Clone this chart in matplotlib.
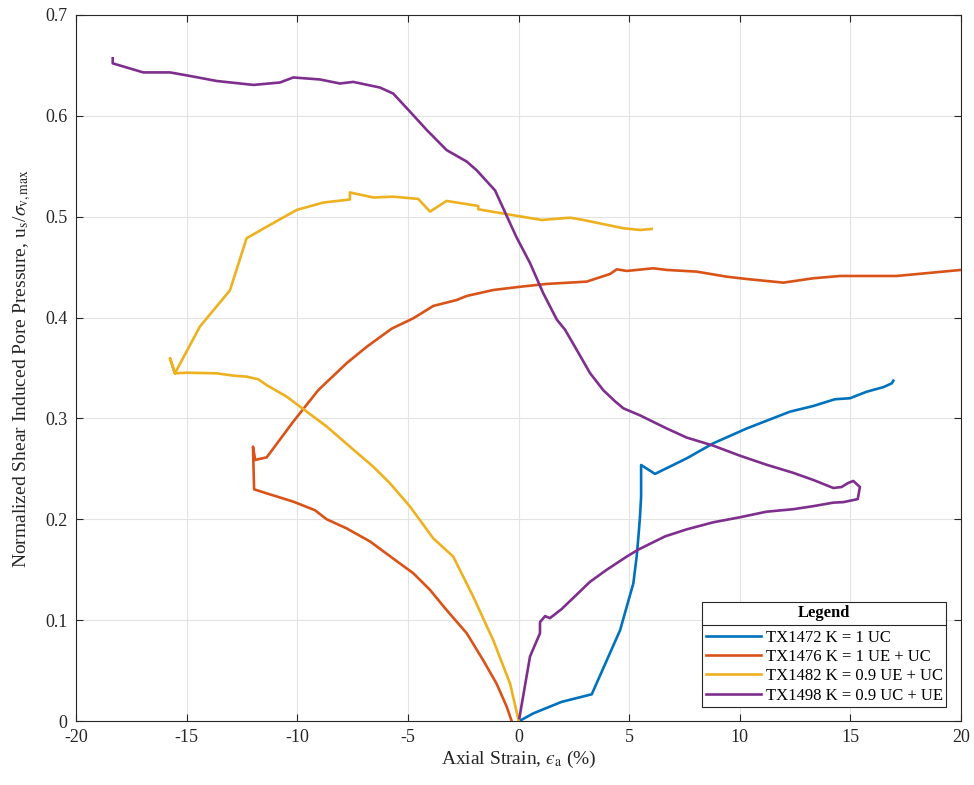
import matplotlib.pyplot as plt
from matplotlib.lines import Line2D

plt.rcParams['font.family'] = ['Liberation Serif', 'DejaVu Serif']
plt.rcParams['mathtext.fontset'] = 'stix'
plt.rcParams['axes.unicode_minus'] = False

# TX1472 K = 1 UC
x1472 = [0.04, 0.67, 1.95, 3.31, 4.59, 4.89, 5.19, 5.34, 5.42, 5.49, 5.54, 5.54, 6.17,
         7.6, 8.8, 10.31, 12.27, 13.32, 14.3, 14.98, 15.74, 16.49, 16.87, 16.94]
y1472 = [0.0, 0.0076, 0.019, 0.0265, 0.090, 0.1133, 0.1365, 0.163, 0.183, 0.2026, 0.222, 0.2538, 0.245,
         0.2604, 0.2753, 0.290, 0.3067, 0.3123, 0.319, 0.320, 0.3265, 0.331, 0.3348, 0.3374]

# TX1476 K = 1 UE + UC
x1476 = [-0.31, -0.53, -0.99, -1.59, -2.34, -3.25, -4.0, -4.75, -5.66, -6.71, -7.77, -8.67,
         -9.2, -10.18, -11.38, -11.95, -12.0, -11.9, -11.38, -10.18, -9.05, -7.77, -6.86, -5.73,
         -4.75, -3.85, -2.79, -2.34, -1.14, 0.07, 1.27, 3.08, 4.14, 4.44, 4.89, 6.09, 6.7,
         8.05, 9.41, 10.31, 11.97, 13.32, 14.53, 17.09, 20.0]
y1476 = [0.0, 0.014, 0.037, 0.060, 0.087, 0.110, 0.130, 0.1464, 0.161, 0.178, 0.191, 0.200,
         0.209, 0.2175, 0.2257, 0.2297, 0.272, 0.2588, 0.2614, 0.2968, 0.328, 0.3547, 0.371, 0.389,
         0.3993, 0.4115, 0.4174, 0.4214, 0.4273, 0.4305, 0.4333, 0.4356, 0.4432, 0.4478, 0.4462, 0.4488, 0.4472,
         0.4455, 0.4405, 0.4382, 0.4346, 0.4389, 0.4412, 0.4412, 0.4472]

# TX1482 K = 0.9 UE + UC
x1482 = [0.0, -0.38, -1.14, -2.04, -2.95, -3.85, -4.9, -5.81, -6.56, -7.62, -8.67, -9.57,
         -10.48, -11.38, -11.76, -12.29, -12.89, -13.64, -15.0, -15.53, -15.75, -15.53,
         -14.4, -13.04, -12.29, -11.38, -10.02, -8.82, -7.62, -7.62, -6.56, -5.66, -4.53, -4.0,
         -3.25, -1.82, -1.82, -0.53, 1.05, 2.33, 2.93, 4.74, 5.49, 6.02]
y1482 = [0.001, 0.037, 0.080, 0.123, 0.163, 0.181, 0.2125, 0.2357, 0.252, 0.272, 0.292, 0.3067,
         0.3216, 0.333, 0.3388, 0.3414, 0.3424, 0.3447, 0.3453, 0.3447, 0.3596, 0.3447,
         0.391, 0.427, 0.4786, 0.490, 0.5067, 0.514, 0.517, 0.524, 0.519, 0.5198, 0.5176, 0.505,
         0.5156, 0.5106, 0.5073, 0.5025, 0.4967, 0.499, 0.4967, 0.4885, 0.4868, 0.4878]

# TX1498 K = 0.9 UC + UE
x1498 = [0.04, 0.52, 0.97, 0.97, 1.2, 1.42, 1.95, 3.23, 3.99, 4.89, 5.42, 6.62, 7.6, 8.8,
         10.01, 11.2, 12.42, 13.32, 14.23, 14.68, 15.33, 15.43, 15.13, 14.9, 14.6, 14.23,
         13.32, 12.42, 11.22, 10.01, 8.8, 7.6, 6.7, 5.49, 4.74, 4.36, 3.83, 3.23, 2.63, 2.1,
         1.73, 1.12, 0.52, -0.1, -1.06, -1.89, -2.34, -3.25, -4.15, -4.9, -5.66, -6.26, -7.47,
         -8.07, -8.97, -10.18, -10.78, -11.98, -13.64, -14.85, -15.75, -16.96, -18.34, -18.34]
y1498 = [0.003, 0.064, 0.087, 0.098, 0.104, 0.102, 0.111, 0.138, 0.150, 0.163, 0.170, 0.183, 0.190, 0.197,
         0.202, 0.2075, 0.210, 0.213, 0.2165, 0.217, 0.220, 0.232, 0.238, 0.236, 0.232, 0.231,
         0.239, 0.246, 0.254, 0.263, 0.273, 0.281, 0.290, 0.303, 0.310, 0.317, 0.328, 0.345, 0.368, 0.388,
         0.398, 0.424, 0.454, 0.480, 0.526, 0.546, 0.5546, 0.566, 0.586, 0.604, 0.622, 0.628, 0.6336,
         0.632, 0.636, 0.638, 0.633, 0.6306, 0.6345, 0.6395, 0.643, 0.643, 0.652, 0.657]

labels = ['TX1472 K = 1 UC', 'TX1476 K = 1 UE + UC',
          'TX1482 K = 0.9 UE + UC', 'TX1498 K = 0.9 UC + UE']
colors = ['#0072BD', '#D95319', '#EDB120', '#7E2F8E']

fig = plt.figure(figsize=(9.74, 7.85), dpi=100)
ax = fig.add_axes([0.078, 0.0815, 0.9087, 0.8995])

for xs, ys, lab, c in zip([x1472, x1476, x1482, x1498], [y1472, y1476, y1482, y1498], labels, colors):
    ax.plot(xs, ys, color=c, lw=1.9, label=lab)

ax.set_xlim(-20, 20)
ax.set_ylim(0, 0.7)
ax.set_xticks(range(-20, 21, 5))
ax.set_yticks([0, 0.1, 0.2, 0.3, 0.4, 0.5, 0.6, 0.7])
ax.set_yticklabels(['0', '0.1', '0.2', '0.3', '0.4', '0.5', '0.6', '0.7'])
ax.grid(True, color='#e3e3e3', lw=0.8)
ax.set_axisbelow(True)
ax.tick_params(direction='in', top=True, right=True, labelsize=13, colors='#262626',
               length=5, width=0.8, pad=6)
for s in ax.spines.values():
    s.set_color('#262626')
    s.set_linewidth(0.8)

ax.set_xlabel('Axial Strain, $\u03f5_{\\rm a}$ (%)', fontsize=14, color='#262626', labelpad=2)
ax.set_ylabel(r'Normalized Shear Induced Pore Pressure, u$_{\rm s}$/$\sigma_{\rm v,max}$',
              fontsize=14, color='#262626', labelpad=9)

leg = ax.legend(loc='lower right', bbox_to_anchor=(0.983, 0.02), title='Legend',
                fontsize=12, title_fontproperties={'weight': 'bold', 'size': 12},
                fancybox=False, framealpha=1, edgecolor='#262626', handlelength=3.3,
                borderpad=0.2, labelspacing=0.2, handletextpad=0.3, borderaxespad=0)
leg.get_frame().set_linewidth(0.8)
leg._legend_box.sep = 6

# separator line under the legend title
fig.canvas.draw()
r = fig.canvas.get_renderer()
fb = leg.get_frame().get_window_extent(r)
tb = leg.get_title().get_window_extent(r)
t0 = leg.get_texts()[0].get_window_extent(r)
yline = (tb.y0 + t0.y1) / 2
inv = fig.transFigure.inverted()
p0 = inv.transform((fb.x0, yline))
p1 = inv.transform((fb.x1, yline))
fig.add_artist(Line2D([p0[0], p1[0]], [p0[1], p1[1]], color='#262626', lw=0.8))

fig.savefig('out.png', dpi=100)
